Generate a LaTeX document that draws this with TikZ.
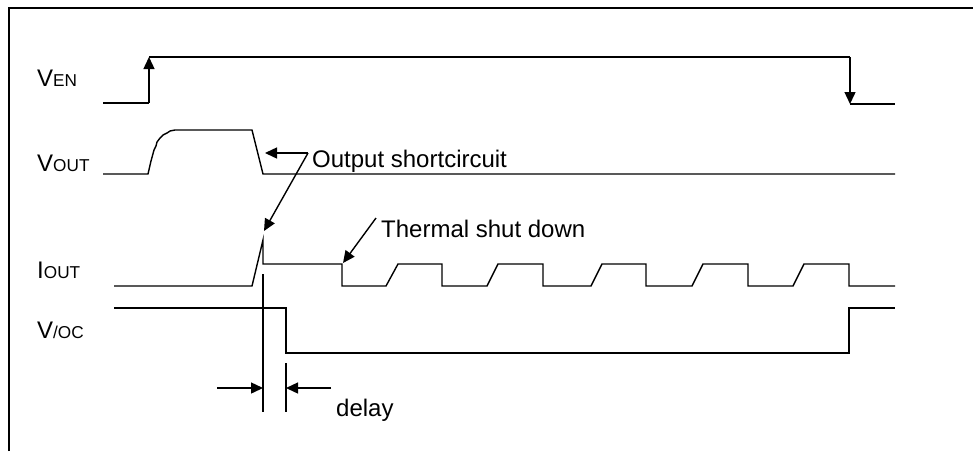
\documentclass[tikz,border=0pt]{standalone}
\usepackage{fontspec}
\setmainfont{Liberation Sans}
\usetikzlibrary{arrows.meta}
\newcommand{\bigtxt}{\fontsize{24}{28}\selectfont}
\newcommand{\smalltxt}{\fontsize{17.2}{20}\selectfont}
\begin{document}
\begin{tikzpicture}[x=1pt,y=-1pt,
  sig/.style={line width=1.4pt,line join=miter},
  frame/.style={line width=1.1pt},
  arr/.style={line width=1.4pt,-{Triangle[length=12pt,width=11pt]}},
  lbl/.style={anchor=base west,inner sep=0pt,font=\bigtxt}]
\useasboundingbox (0,0) rectangle (973,451);
% frame
\draw[frame] (9,451) -- (9,8) -- (973,8);
% labels
\node[lbl] (len) at (37,86) {V{\smalltxt EN}};
\node[lbl] (lout) at (37,171) {V{\smalltxt OUT}};
\node[lbl] (liout) at (37,278) {I{\smalltxt OUT}};
\node[lbl] (loc) at (37,338) {V{\smalltxt /OC}};
\node[lbl] (tsc) at (312,167) {Output shortcircuit};
\node[lbl] (tth) at (381,237) {Thermal shut down};
\node[lbl] (tdl) at (336,416) {delay};
% VEN
\coordinate (enA) at (149,103);
\coordinate (enB) at (149,57);
\coordinate (enC) at (850,57);
\coordinate (enD) at (850,104);
\draw[sig] (103,103) -- (enA);
\draw[arr] (enA) -- (enB);
\draw[sig] (enB) -- (enC);
\draw[arr] (enC) -- (enD);
\draw[sig] (enD) -- (895,104);
% VOUT
\draw[sig] (103,174) -- (148,174) -- (151,161) -- (154,150) -- (156,146) -- (157,142) -- (160,138) -- (163,135) -- (167,133) -- (170,131) -- (175,130) -- (252,130) -- (263,174) -- (895,174);
% IOUT
\draw[sig] (114,286) -- (252,286) -- (263,240) -- (263,264) -- (342,264) -- (342,286)
  -- (386,286) -- (398,264) -- (442,264) -- (442,286)
  -- (487,286) -- (498,264) -- (543,264) -- (543,286)
  -- (591,286) -- (602,264) -- (646,264) -- (646,286)
  -- (692,286) -- (703,264) -- (748,264) -- (748,286)
  -- (793,286) -- (804,264) -- (849,264) -- (849,286) -- (895,286);
% V/OC
\draw[sig] (114,308) -- (286,308) -- (286,353) -- (849,353) -- (849,308) -- (895,308);
% delay markers
\coordinate (dA) at (263,274);
\coordinate (dAb) at (263,412);
\coordinate (dB) at (286,363);
\coordinate (dBb) at (286,412);
\draw[sig] (dA) -- (dAb);
\draw[sig] (dB) -- (dBb);
\coordinate (dL) at (217,388);
\coordinate (dLt) at (263,388);
\coordinate (dR) at (331,388);
\coordinate (dRt) at (286,388);
\draw[arr] (dL) -- (dLt);
\draw[arr] (dR) -- (dRt);
% output shortcircuit arrows
\coordinate (sc0) at (308,153);
\coordinate (sc1) at (265,153);
\coordinate (sc2) at (264,231);
\draw[arr] (sc0) -- (sc1);
\draw[arr] (sc0) -- (sc2);
% thermal arrow
\coordinate (th0) at (376,218);
\coordinate (th1) at (343,263);
\draw[arr] (th0) -- (th1);
\end{tikzpicture}
\end{document}
